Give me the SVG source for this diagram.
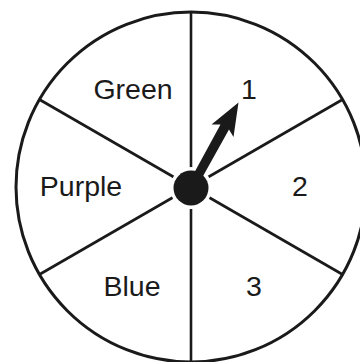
<svg xmlns="http://www.w3.org/2000/svg" width="360" height="362" viewBox="0 0 360 362">
<style>
.rim{fill:none;stroke:#1a1a1a;stroke-width:3}
.sp{stroke:#1a1a1a;stroke-width:2.6;fill:none}
.lb{font-family:"Liberation Sans",Arial,sans-serif;font-size:28.5px;fill:#1a1a1a;text-anchor:middle}
</style>
<rect width="360" height="362" fill="#fff"/>
<g id="spinner">
<circle class="rim" cx="191" cy="187" r="175"/>
</g>
<g id="connectors">
<line class="sp" x1="191" y1="12" x2="191" y2="362"/>
<line class="sp" x1="39.4" y1="99.5" x2="342.6" y2="274.5"/>
<line class="sp" x1="39.4" y1="274.5" x2="342.6" y2="99.5"/>
</g>
<g id="labels">
<text class="lb" x="133" y="99">Green</text>
<text class="lb" x="249" y="99">1</text>
<text class="lb" x="81" y="196">Purple</text>
<text class="lb" x="300" y="196">2</text>
<text class="lb" x="132" y="296">Blue</text>
<text class="lb" x="254" y="296">3</text>
</g>
<g id="pointer">
<circle cx="191" cy="188" r="21" fill="#fff"/>
<polygon fill="#1a1a1a" points="238.5,102.5 233.5,137 229,129.5 195,190.5 187,186 220.5,124.5 211.5,124.5"/>
<circle cx="191" cy="188" r="17.5" fill="#1a1a1a"/>
</g>
</svg>
